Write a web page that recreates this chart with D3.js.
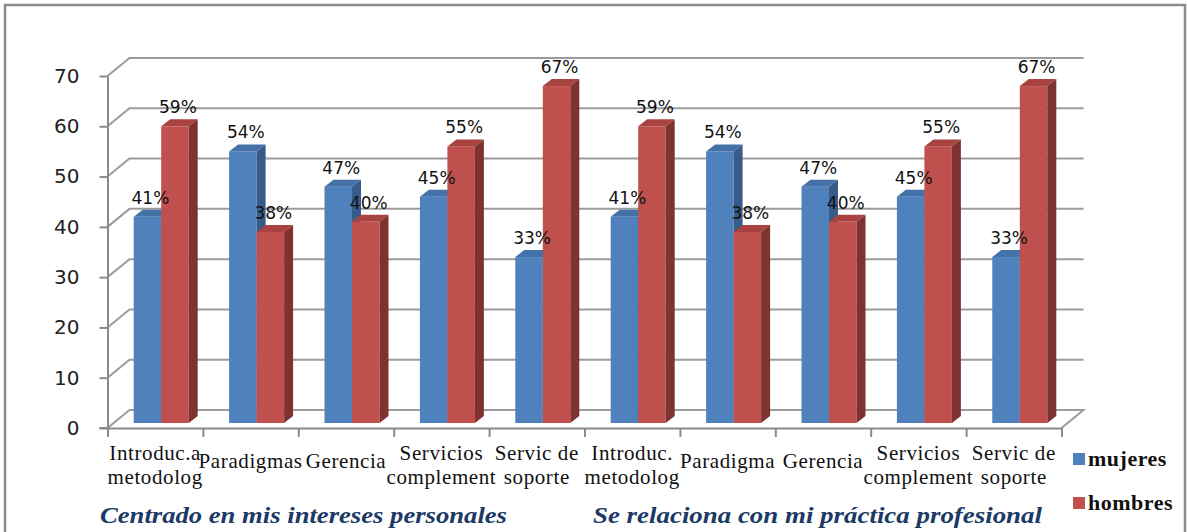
<!DOCTYPE html>
<html>
<head>
<meta charset="utf-8">
<script src="https://cdn.jsdelivr.net/npm/d3@7"></script>
<style>
  html, body { margin: 0; padding: 0; background: #ffffff; }
  svg { display: block; }
</style>
</head>
<body>
<svg id="chart" width="1188" height="532"></svg>
<script>
// ---------------- data ----------------
const categories = [
  "Introduc.a\nmetodolog", "Paradigmas", "Gerencia", "Servicios\ncomplement", "Servic de\nsoporte",
  "Introduc.\nmetodolog", "Paradigma", "Gerencia", "Servicios\ncomplement", "Servic de\nsoporte"
];
const groupTitles = ["Centrado en mis intereses personales", "Se relaciona con mi práctica profesional"];
const seriesNames = ["mujeres", "hombres"];
const mujeres = [41, 54, 47, 45, 33, 41, 54, 47, 45, 33];
const hombres = [59, 38, 40, 55, 67, 59, 38, 40, 55, 67];
const yTicks = [0, 10, 20, 30, 40, 50, 60, 70];

(function () {
// ---------------- styles ----------------
const colors = {
  mujeres: { front: "#4F81BD", top: "#4371A8", side: "#375C8C" },
  hombres: { front: "#C0504D", top: "#A8433F", side: "#7E3331" }
};
const gridColor = "#9c9c9c";
const axisColor = "#8a8a8a";
const titleColor = "#1B3A66";

const svg = d3.select("#chart");

// plot geometry (front plane)
const pLeft = 107.5, pRight = 1061.5, pBottom = 428, pTop = 76;
const depth = { dx: 22, dy: -18 };          // wall depth
const barFront = { dx: 6, dy: -5 };          // bars start this far back
const barDepth = { dx: 9, dy: -7 };          // bar thickness in depth

const y = d3.scaleLinear().domain([0, 70]).range([pBottom, pTop]);
const x = d3.scaleBand().domain(d3.range(categories.length)).range([pLeft, pRight])
  .paddingInner(0.4235).paddingOuter(0.4235 / 2);
const xs = d3.scaleBand().domain(seriesNames).range([0, x.bandwidth()]);
const xEdge = d3.scaleLinear().domain([0, categories.length]).range([pLeft, pRight]);

// border
svg.append("rect").attr("x", 5).attr("y", 5).attr("width", 1180).attr("height", 560)
  .attr("fill", "none").attr("stroke", "#8c8c8c").attr("stroke-width", 2.5);

// gridlines on the back wall (with the depth diagonal)
const gridG = svg.append("g");
yTicks.forEach(v => {
  const yy = y(v);
  const pts = [[pLeft, yy], [pLeft + depth.dx, yy + depth.dy], [pRight + depth.dx, yy + depth.dy]];
  if (v === 0) pts.push([pRight, yy]);
  gridG.append("path")
    .attr("d", d3.line()(pts))
    .attr("fill", "none").attr("stroke", gridColor).attr("stroke-width", 2);
});

// y axis
const yAxis = d3.axisLeft(y).tickValues(yTicks).tickSize(8).tickPadding(20).tickSizeOuter(0);
const yG = svg.append("g").attr("transform", `translate(${pLeft},0)`).call(yAxis);
yG.select(".domain").attr("stroke", axisColor).attr("stroke-width", 2);
yG.selectAll(".tick line").attr("stroke", axisColor).attr("stroke-width", 2);
yG.selectAll(".tick text").attr("font-family", "'DejaVu Sans', sans-serif")
  .attr("font-size", 20).attr("fill", "#222");

// x axis (tick marks at category boundaries)
const xAxis = d3.axisBottom(xEdge).tickValues(d3.range(categories.length + 1))
  .tickSize(9).tickFormat("").tickSizeOuter(0);
const xG = svg.append("g").attr("transform", `translate(0,${pBottom})`).call(xAxis);
xG.select(".domain").attr("stroke", axisColor).attr("stroke-width", 2);
xG.selectAll(".tick line").attr("stroke", axisColor).attr("stroke-width", 2);
svg.append("line").attr("x1", pLeft - 8).attr("x2", pLeft).attr("y1", pBottom).attr("y2", pBottom)
  .attr("stroke", axisColor).attr("stroke-width", 2);

// bars
const barsG = svg.append("g");
const seriesVals = { mujeres, hombres };
categories.forEach((c, i) => {
  seriesNames.forEach(s => {
    const v = seriesVals[s][i];
    const x0 = x(i) + xs(s) + barFront.dx;
    const x1 = x0 + xs.bandwidth();
    const yb = y(0) + barFront.dy;
    const yt = y(v) + barFront.dy;
    const col = colors[s];
    const g = barsG.append("g");
    g.append("rect").attr("x", x0).attr("y", yt).attr("width", x1 - x0).attr("height", yb - yt)
      .attr("fill", col.front);
    g.append("path").attr("d", d3.line()([[x0, yt], [x0 + barDepth.dx, yt + barDepth.dy],
      [x1 + barDepth.dx, yt + barDepth.dy], [x1, yt]]) + "Z").attr("fill", col.top);
    g.append("path").attr("d", d3.line()([[x1, yt], [x1 + barDepth.dx, yt + barDepth.dy],
      [x1 + barDepth.dx, yb + barDepth.dy], [x1, yb]]) + "Z").attr("fill", col.side);
  });
});

// value labels
const labG = svg.append("g");
categories.forEach((c, i) => {
  seriesNames.forEach(s => {
    const v = seriesVals[s][i];
    const cx = x(i) + xs(s) + barFront.dx + xs.bandwidth() / 2 + 3;
    labG.append("text").attr("x", cx).attr("y", y(v) + barFront.dy - 13)
      .attr("text-anchor", "middle")
      .attr("font-family", "'DejaVu Sans', sans-serif").attr("font-size", 17)
      .attr("fill", "#111").text(v + "%");
  });
});

// category labels
const catG = svg.append("g");
categories.forEach((c, i) => {
  const lines = c.split("\n");
  const cx = x(i) + x.bandwidth() / 2;
  const y0 = lines.length > 1 ? 460 : 468;
  const t = catG.append("text").attr("text-anchor", "middle")
    .attr("font-family", "'Liberation Serif', 'Times New Roman', serif")
    .attr("font-size", 21).attr("letter-spacing", 0.6).attr("fill", "#111");
  lines.forEach((ln, k) => {
    t.append("tspan").attr("x", cx).attr("y", y0 + k * 23.5).text(ln);
  });
});

// group titles
const titleX = [100, 593];
const titleW = [407, 449];
groupTitles.forEach((g, k) => {
  svg.append("text").attr("x", titleX[k]).attr("y", 523)
    .attr("font-family", "'Liberation Serif', 'Times New Roman', serif")
    .attr("font-size", 24).attr("font-weight", "bold").attr("font-style", "italic")
    .attr("fill", titleColor)
    .attr("textLength", titleW[k]).attr("lengthAdjust", "spacingAndGlyphs")
    .text(g);
});

// legend
const legG = svg.append("g").attr("transform", "translate(1073,453)");
seriesNames.forEach((s, k) => {
  const gy = k * 44;
  legG.append("rect").attr("x", 0).attr("y", gy).attr("width", 12).attr("height", 12)
    .attr("fill", colors[s].front);
  legG.append("text").attr("x", 15).attr("y", gy + 12.5)
    .attr("font-family", "'Liberation Serif', 'Times New Roman', serif")
    .attr("font-size", 22).attr("font-weight", "bold").attr("letter-spacing", 0.5)
    .attr("fill", "#111").text(s);
});
})();
</script>
</body>
</html>
